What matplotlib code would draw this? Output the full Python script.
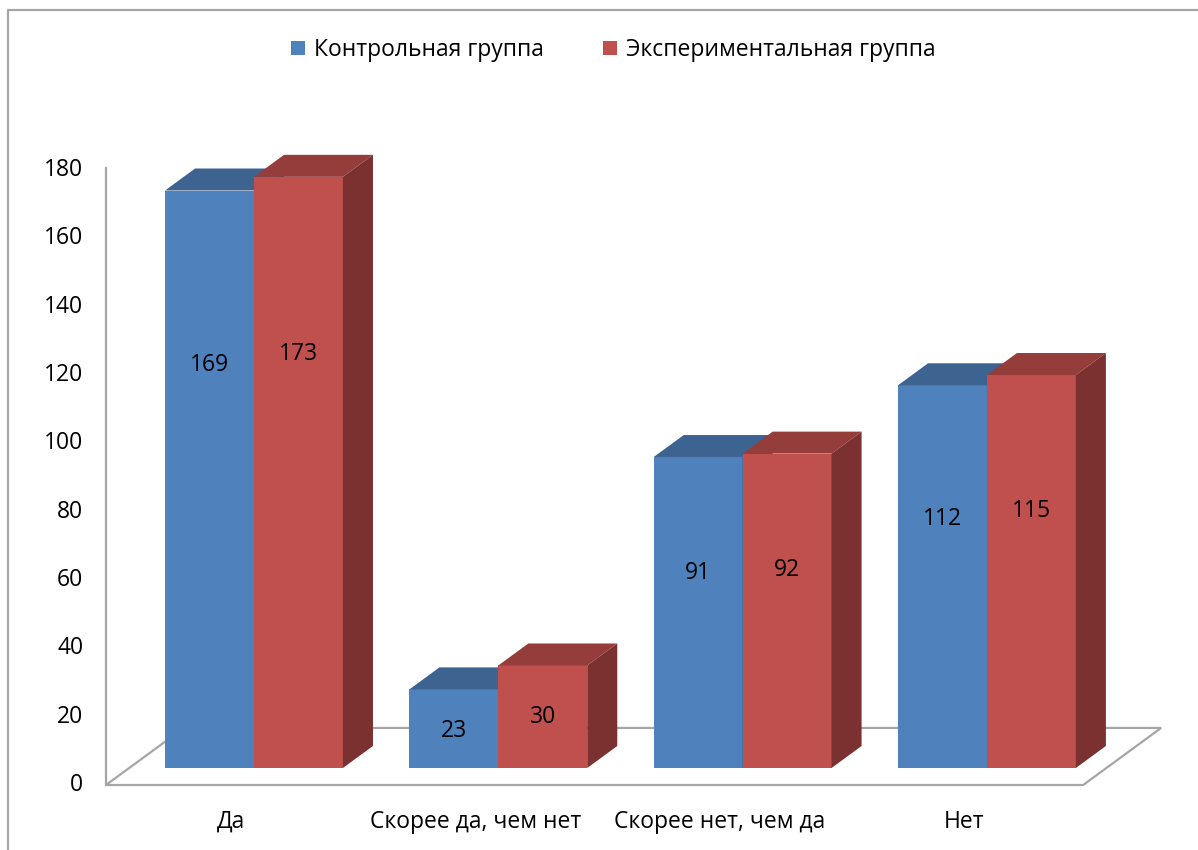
import numpy as np
import matplotlib.pyplot as plt
from matplotlib.patches import Polygon, Patch

plt.rcParams['font.family'] = ['Open Sans', 'DejaVu Sans']

# data
categories = ['Да', 'Скорее да, чем нет', 'Скорее нет, чем да', 'Нет']
control = [169, 23, 91, 112]
experiment = [173, 30, 92, 115]
series_names = ['Контрольная группа', 'Экспериментальная группа']
yticks = [0, 20, 40, 60, 80, 100, 120, 140, 160, 180]

# colours (front, top, side)
blue = ('#4F81BD', '#3D6491', '#385D8A')
red = ('#C0504D', '#943D3A', '#7B3130')
grid_c = '#A6A6A6'
fs = 16.5

# pseudo-3d geometry (data units)
bw = 0.364               # bar width
shift_x, shift_y = 0.094, 4.98   # bar plane behind front plane
dep_x, dep_y = 0.123, 6.44       # bar depth
floor_dx, floor_dy = 0.319, 16.7
floor_l, floor_r = -0.512, 3.488

fig = plt.figure(figsize=(11.98, 8.5), dpi=100)
ax = fig.add_axes([0, 0, 1, 1])
ax.set_xlim(-0.9456, 3.958)
ax.set_ylim(-19.02, 229.73)
ax.axis('off')

# outer frame (left and top only visible)
ax.plot([0.0067, 0.0067, 1.0], [0.0, 0.988, 0.988], transform=ax.transAxes,
        color=grid_c, lw=1.6, clip_on=False)

# floor
floor = Polygon([(floor_l, 0), (floor_r, 0), (floor_r + floor_dx, floor_dy),
                 (floor_l + floor_dx, floor_dy)], closed=True,
                facecolor='white', edgecolor=grid_c, lw=1.6, zorder=1)
ax.add_patch(floor)
# vertical axis line
ax.plot([floor_l, floor_l], [0, 180.5], color=grid_c, lw=1.6, zorder=1)

# y tick labels
for t in yticks:
    ax.text(-0.605, t, str(t), ha='right', va='center', fontsize=fs)


def draw_bar(xc, v, cols, z):
    xl, xr = xc - bw / 2, xc + bw / 2
    b = shift_y
    ax.bar(xc, v, width=bw, bottom=b, color=cols[0], linewidth=0, zorder=z)
    top = Polygon([(xl, v + b), (xr, v + b), (xr + dep_x, v + b + dep_y),
                   (xl + dep_x, v + b + dep_y)], closed=True,
                  facecolor=cols[1], edgecolor='none', zorder=z)
    side = Polygon([(xr, b), (xr, v + b), (xr + dep_x, v + b + dep_y),
                    (xr + dep_x, b + dep_y)], closed=True,
                   facecolor=cols[2], edgecolor='none', zorder=z)
    ax.add_patch(top)
    ax.add_patch(side)
    # label placed roughly where the 3d renderer puts it
    ly = v * (0.11 + 0.264 * np.log10(v)) + b
    ax.text(xc, ly, str(v), ha='center', va='center', fontsize=fs, zorder=z + 1)


x = np.arange(len(categories))
for i in range(len(categories)):
    gc = x[i] + shift_x
    draw_bar(gc - bw / 2, control[i], blue, 2 + 2 * i)
    draw_bar(gc + bw / 2, experiment[i], red, 3 + 2 * i)

# category labels
for i, c in enumerate(categories):
    ax.text(x[i], -10.8, c, ha='center', va='center', fontsize=fs)

handles = [Patch(facecolor=blue[0]), Patch(facecolor=red[0])]
fig.legend(handles, series_names, loc='center', bbox_to_anchor=(0.512, 0.941),
           ncol=2, frameon=False, fontsize=fs, handlelength=0.6,
           handleheight=0.6, handletextpad=0.4, columnspacing=2.6)

fig.savefig('out.png', dpi=100)
